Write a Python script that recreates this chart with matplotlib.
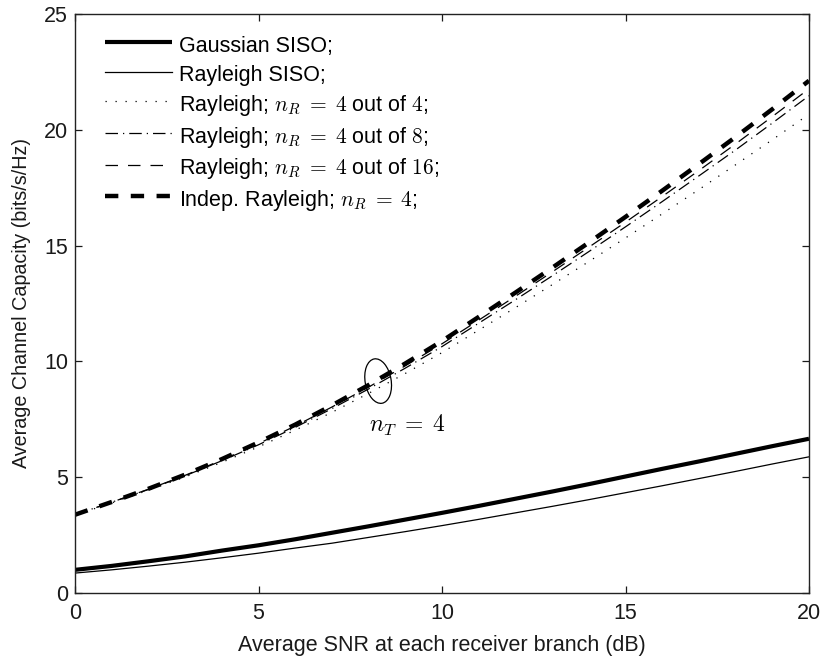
import numpy as np
import matplotlib
matplotlib.use("Agg")
import matplotlib.pyplot as plt
from matplotlib.patches import Ellipse
import matplotlib.transforms as mtransforms

plt.rcParams['font.family'] = ['Liberation Sans', 'DejaVu Sans']
plt.rcParams['mathtext.fontset'] = 'cm'

# ---------------- data ----------------
snr_db = [0, 1, 2, 3, 4, 5, 6, 7, 8, 9, 10, 11, 12, 13, 14, 15, 16, 17, 18, 19, 20]

gaussian_siso = [1.00, 1.17, 1.37, 1.58, 1.83, 2.06, 2.32, 2.60, 2.88, 3.17, 3.46,
                 3.76, 4.07, 4.38, 4.70, 5.03, 5.36, 5.68, 6.01, 6.34, 6.66]
rayleigh_siso = [0.86, 1.00, 1.16, 1.33, 1.52, 1.72, 1.94, 2.15, 2.40, 2.65, 2.91,
                 3.18, 3.46, 3.74, 4.03, 4.33, 4.63, 4.94, 5.25, 5.57, 5.88]
rayleigh_4of4 = [3.36, 3.89, 4.44, 5.01, 5.64, 6.31, 7.03, 7.80, 8.62, 9.48, 10.38,
                 11.35, 12.32, 13.31, 14.31, 15.33, 16.37, 17.42, 18.49, 19.57, 20.67]
rayleigh_4of8 = [3.38, 3.92, 4.47, 5.06, 5.71, 6.40, 7.15, 7.96, 8.81, 9.71, 10.64,
                 11.65, 12.66, 13.69, 14.74, 15.81, 16.90, 18.01, 19.13, 20.29, 21.47]
rayleigh_4of16 = [3.38, 3.92, 4.48, 5.08, 5.74, 6.45, 7.21, 8.03, 8.89, 9.81, 10.76,
                  11.78, 12.81, 13.86, 14.93, 16.01, 17.12, 18.24, 19.39, 20.57, 21.77]
indep_rayleigh = [3.38, 3.93, 4.50, 5.11, 5.78, 6.50, 7.27, 8.10, 8.98, 9.91, 10.88,
                  11.92, 12.97, 14.04, 15.13, 16.24, 17.37, 18.52, 19.69, 20.89, 22.12]

labels = ['Gaussian SISO;',
          'Rayleigh SISO;',
          r'Rayleigh; $n_R\;=\;4$ out of $4$;',
          r'Rayleigh; $n_R\;=\;4$ out of $8$;',
          r'Rayleigh; $n_R\;=\;4$ out of $16$;',
          r'Indep. Rayleigh; $n_R\;=\;4$;']

xticks = [0, 5, 10, 15, 20]
yticks = [0, 5, 10, 15, 20, 25]

# ---------------- figure ----------------
fig = plt.figure(figsize=(8.23, 6.57), dpi=100)
ax = fig.add_axes([75/823, 1-593/657, 734/823, 579/657])

k = 'black'
FS = 15.5
ax.plot(snr_db, gaussian_siso, color=k, lw=3.0, solid_capstyle='butt', label=labels[0])
ax.plot(snr_db, rayleigh_siso, color=k, lw=0.9, label=labels[1])
ax.plot(snr_db, rayleigh_4of4, color=k, lw=0.9, linestyle=(0, (1, 7)), label=labels[2])
ax.plot(snr_db, rayleigh_4of8, color=k, lw=0.9, linestyle=(0, (10, 4, 1, 4)),
        dash_capstyle='butt', label=labels[3])
ax.plot(snr_db, rayleigh_4of16, color=k, lw=0.9, linestyle=(0, (10, 8)),
        dash_capstyle='butt', label=labels[4])
ax.plot(snr_db, indep_rayleigh, color=k, lw=3.2, linestyle=(0, (3.0, 2.8)),
        dash_capstyle='butt', label=labels[5])

ax.set_xlim(0, 20)
ax.set_ylim(0, 25)
ax.set_xticks(xticks)
ax.set_yticks(yticks)
ax.tick_params(direction='in', length=5, width=0.9, top=True, right=True,
               labelsize=FS, colors='#1a1a1a')
ax.tick_params(axis='x', pad=7)
ax.tick_params(axis='y', pad=5)
for s in ax.spines.values():
    s.set_linewidth(1.0)
    s.set_color('#222222')

ax.set_xlabel('Average SNR at each receiver branch (dB)', fontsize=FS, color='#1a1a1a', labelpad=8)
ax.set_ylabel('Average Channel Capacity (bits/s/Hz)', fontsize=14.2, color='#1a1a1a', labelpad=9)

leg = ax.legend(loc='upper left', bbox_to_anchor=(0.041, 0.968), frameon=False,
                fontsize=FS, handlelength=3.1, handletextpad=0.35, labelspacing=0.25,
                handleheight=1.35, borderpad=0, borderaxespad=0)

# ellipse annotation around the n_T = 4 curves
trans = fig.dpi_scale_trans + mtransforms.ScaledTranslation(8.26, 9.15, ax.transData)
ell = Ellipse((0, 0), width=0.26, height=0.45, angle=10, fill=False,
              edgecolor=k, lw=0.9, transform=trans)
ax.add_patch(ell)
ax.text(9.05, 7.25, r'$n_T\;=\;4$', fontsize=17, ha='center', va='center')

fig.savefig('out.png', dpi=100)
